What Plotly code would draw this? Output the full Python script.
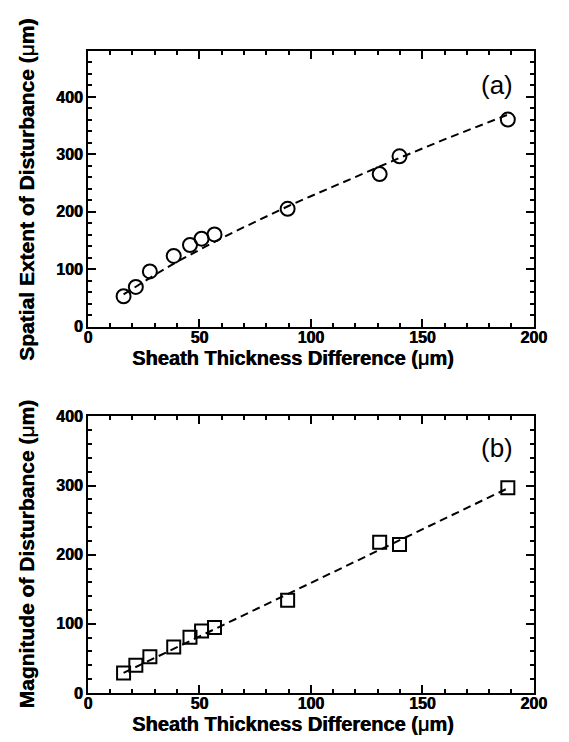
import plotly.graph_objects as go

# ---- data ----
sheath_diff = [16, 21.5, 27.8, 38.5, 45.8, 51, 56.8, 89.6, 130.9, 139.8, 188.4]
spatial_extent = [52.8, 69, 96, 123, 142, 153, 160.5, 205, 265.5, 296.5, 360.5]
magnitude = [28.7, 40, 52.3, 66.4, 80.6, 89.5, 94.7, 134, 218, 214.8, 296.8]

fit_a_x = [16, 20, 30, 40, 50, 60, 70, 80, 90, 100, 120, 140, 160, 189]
fit_a_y = [56, 66, 90, 113, 134, 154, 173, 192, 210, 227, 261, 294, 326, 370]

fit_b_x = [16, 189]
fit_b_y = [29, 297]

x_ticks = [0, 50, 100, 150, 200]
y_ticks = [0, 100, 200, 300, 400]

W, H = 569, 742
FONT = "Liberation Sans"
HEAVY = "0.6px 0px 0px black"

def px_x(p):
    return p / W

def px_y(p):
    return 1 - p / H

fig = go.Figure()

dash_style = dict(color="black", width=2, dash="8px,5px")

fig.add_trace(go.Scatter(x=fit_a_x, y=fit_a_y, mode="lines", line=dash_style,
                         xaxis="x", yaxis="y", showlegend=False, hoverinfo="skip"))
fig.add_trace(go.Scatter(x=sheath_diff, y=spatial_extent, mode="markers",
                         marker=dict(symbol="circle-open", size=14, color="black",
                                     line=dict(width=2, color="black")),
                         xaxis="x", yaxis="y", showlegend=False))
fig.add_trace(go.Scatter(x=fit_b_x, y=fit_b_y, mode="lines", line=dash_style,
                         xaxis="x2", yaxis="y2", showlegend=False, hoverinfo="skip"))
fig.add_trace(go.Scatter(x=sheath_diff, y=magnitude, mode="markers",
                         marker=dict(symbol="square-open", size=13, color="black",
                                     line=dict(width=2, color="black")),
                         xaxis="x2", yaxis="y2", showlegend=False))

tickfont = dict(family=FONT, size=16, color="black", weight="bold", shadow=HEAVY)

def xaxis_cfg(anchor):
    return dict(
        domain=[px_x(86.5), px_x(546)], range=[0, 200], anchor=anchor,
        tickvals=x_ticks, ticktext=[str(v) for v in x_ticks],
        ticks="inside", ticklen=8, tickwidth=2, tickcolor="black",
        minor=dict(dtick=10, tick0=0, ticks="inside", ticklen=4, tickwidth=1.5, tickcolor="black"),
        showline=True, linewidth=2, linecolor="black", mirror="ticks",
        showgrid=False, zeroline=False, tickfont=tickfont, ticklabelstandoff=-5,
    )

def yaxis_cfg(anchor, top_val, top_px, bot_px):
    return dict(
        domain=[px_y(bot_px), px_y(top_px)], range=[0, top_val], anchor=anchor,
        tickvals=y_ticks, ticktext=[str(v) for v in y_ticks],
        ticks="inside", ticklen=8, tickwidth=2, tickcolor="black",
        minor=dict(dtick=20, tick0=0, ticks="inside", ticklen=4, tickwidth=1.5, tickcolor="black"),
        showline=True, linewidth=2, linecolor="black", mirror="ticks",
        showgrid=False, zeroline=False, tickfont=tickfont, ticklabelstandoff=0,
    )

title_font = dict(family=FONT, size=20, color="black", shadow=HEAVY)
ytitle_font = dict(family=FONT, size=21, color="black", shadow=HEAVY)
xtitle = "<b>Sheath Thickness Difference (</b>μ<b>m)</b>"

annotations = [
    dict(text=xtitle, x=px_x(298), y=px_y(358), xref="paper", yref="paper",
         xanchor="center", yanchor="middle", showarrow=False, font=title_font),
    dict(text=xtitle, x=px_x(298), y=px_y(732.5), xref="paper", yref="paper",
         xanchor="center", yanchor="middle", showarrow=False, font=title_font),
    dict(text="<b>Spatial Extent of Disturbance (</b>μ<b>m)</b>", x=px_x(23), y=px_y(186),
         xref="paper", yref="paper", xanchor="center", yanchor="middle",
         textangle=-90, showarrow=False, font=ytitle_font),
    dict(text="<b>Magnitude of Disturbance (</b>μ<b>m)</b>", x=px_x(23), y=px_y(559),
         xref="paper", yref="paper", xanchor="center", yanchor="middle",
         textangle=-90, showarrow=False, font=ytitle_font),
    dict(text="(a)", x=px_x(508), y=px_y(79), xref="paper", yref="paper",
         xanchor="center", yanchor="middle", showarrow=False,
         font=dict(family=FONT, size=26, color="black")),
    dict(text="(b)", x=px_x(508), y=px_y(450), xref="paper", yref="paper",
         xanchor="center", yanchor="middle", showarrow=False,
         font=dict(family=FONT, size=26, color="black")),
]

fig.update_layout(
    width=W, height=H, autosize=False,
    margin=dict(l=0, r=0, t=0, b=0),
    paper_bgcolor="white", plot_bgcolor="white",
    xaxis=xaxis_cfg("y"),
    yaxis=yaxis_cfg("x", 480, 44, 326),
    xaxis2=xaxis_cfg("y2"),
    yaxis2=yaxis_cfg("x2", 400, 418, 701),
    annotations=annotations,
    showlegend=False,
)

fig.write_html("out.html")
